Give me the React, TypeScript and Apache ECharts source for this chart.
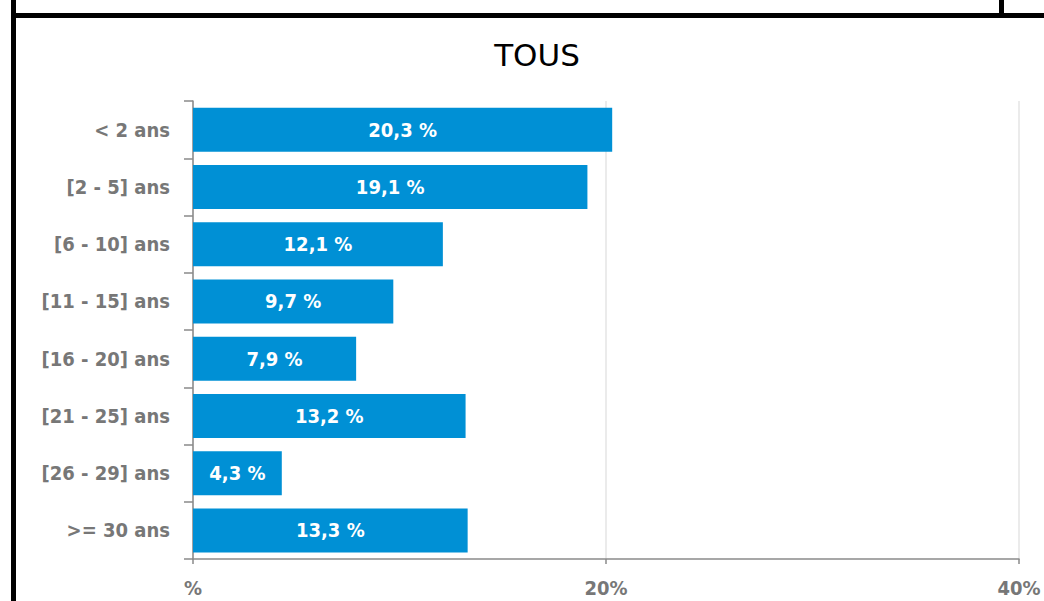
import React, { useEffect, useRef } from "react";
import * as echarts from "echarts";

const categories = [
  "< 2 ans",
  "[2 - 5] ans",
  "[6 - 10] ans",
  "[11 - 15] ans",
  "[16 - 20] ans",
  "[21 - 25] ans",
  "[26 - 29] ans",
  ">= 30 ans",
];
const values = [20.3, 19.1, 12.1, 9.7, 7.9, 13.2, 4.3, 13.3];
const xTicks = [0, 20, 40];
const title = "TOUS";

const LABEL_FONT = "DejaVu Sans Condensed";

export default function App() {
  const ref = useRef<HTMLDivElement>(null);
  useEffect(() => {
    if (!ref.current) return;
    const chart = echarts.init(ref.current, undefined, { renderer: "svg" });
    chart.setOption({
      animation: false,
      backgroundColor: "#ffffff",
      title: {
        text: title,
        left: 532,
        textAlign: "center",
        top: 34,
        textStyle: {
          fontFamily: "DejaVu Sans",
          fontSize: 31,
          fontWeight: "normal",
          color: "#000000",
        },
      },
      grid: { left: 193, right: 25, top: 101, bottom: 42, containLabel: false },
      xAxis: {
        type: "value",
        min: xTicks[0],
        max: xTicks[xTicks.length - 1],
        interval: xTicks[1] - xTicks[0],
        axisLine: { show: true, lineStyle: { color: "#8a8a8a", width: 1.5 } },
        axisTick: { show: true, length: 5, lineStyle: { color: "#8a8a8a", width: 1.5 } },
        splitLine: { show: true, lineStyle: { color: "#e4e4e4", width: 1.5 } },
        axisLabel: {
          margin: 19,
          color: "#777777",
          fontFamily: LABEL_FONT,
          fontWeight: "bold",
          fontSize: 20,
          formatter: (v: number) => (v === 0 ? "%" : v + "%"),
        },
      },
      yAxis: {
        type: "category",
        data: categories,
        inverse: true,
        axisLine: { show: true, lineStyle: { color: "#8a8a8a", width: 1.5 } },
        axisTick: { show: true, length: 9, lineStyle: { color: "#8a8a8a", width: 1.5 } },
        splitLine: { show: false },
        axisLabel: {
          margin: 23,
          color: "#777777",
          fontFamily: LABEL_FONT,
          fontWeight: "bold",
          fontSize: 20,
        },
      },
      series: [
        {
          type: "bar",
          data: values,
          barWidth: 44,
          itemStyle: { color: "#0090d5" },
          label: {
            show: true,
            position: "inside",
            color: "#ffffff",
            fontFamily: LABEL_FONT,
            fontWeight: "bold",
            fontSize: 20,
            formatter: (p: any) => String(p.value).replace(".", ",") + " %",
          },
        },
      ],
      graphic: [
        { type: "rect", shape: { x: 11, y: 0, width: 5, height: 601 }, style: { fill: "#000" }, z: 100 },
        { type: "rect", shape: { x: 11, y: 13, width: 1033, height: 5 }, style: { fill: "#000" }, z: 100 },
        { type: "rect", shape: { x: 999, y: 0, width: 5, height: 13 }, style: { fill: "#000" }, z: 100 },
      ],
    });
    return () => chart.dispose();
  }, []);
  return <div ref={ref} style={{ width: 1044, height: 601, position: "absolute", left: 0, top: 0 }} />;
}
